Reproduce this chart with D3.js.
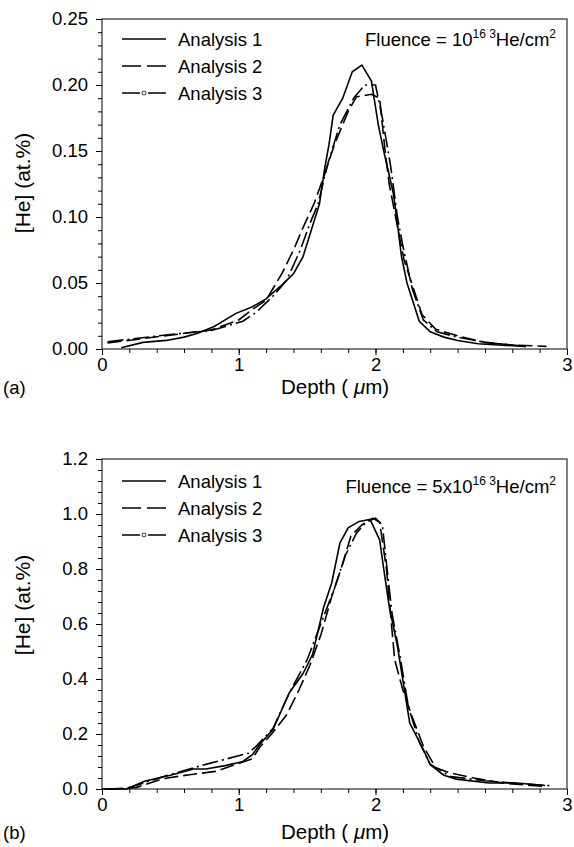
<!DOCTYPE html>
<html>
<head>
<meta charset="utf-8">
<script src="https://cdn.jsdelivr.net/npm/d3@7"></script>
<style>
  body { margin: 0; background: #fff; }
  text { font-family: "Liberation Sans", Arial, sans-serif; fill: #000; }
</style>
</head>
<body>
<script>
// x axis: ticks at 0,1,2 and the right end of the frame carries the "3" label
var xTickValues = [0, 1, 2, 3.4];
var xTickLabels = ['0', '1', '2', '3'];
var seriesNames = ['Analysis 1', 'Analysis 2', 'Analysis 3'];

// panel (a), fluence 1e16
var aTicks = [0, 0.05, 0.10, 0.15, 0.20, 0.25];
var a1 = [[0.14,0.001],[0.30,0.005],[0.47,0.0065],[0.60,0.009],[0.70,0.012],[0.82,0.017],[0.98,0.027],[1.10,0.032],[1.20,0.038],[1.31,0.048],[1.40,0.057],[1.47,0.070],[1.53,0.090],[1.59,0.110],[1.63,0.138],[1.66,0.155],[1.69,0.177],[1.76,0.190],[1.83,0.210],[1.90,0.215],[1.97,0.203],[2.02,0.170],[2.06,0.150],[2.13,0.118],[2.16,0.095],[2.19,0.070],[2.23,0.050],[2.32,0.021],[2.40,0.013],[2.50,0.009],[2.60,0.0065],[2.75,0.004],[2.90,0.003],[3.10,0.002]];
var a2 = [[0.04,0.0045],[0.50,0.0105],[0.80,0.0145],[1.00,0.022],[1.10,0.030],[1.20,0.037],[1.32,0.058],[1.40,0.075],[1.47,0.092],[1.55,0.110],[1.62,0.130],[1.70,0.155],[1.80,0.180],[1.86,0.191],[1.97,0.193],[2.03,0.190],[2.07,0.150],[2.10,0.125],[2.19,0.077],[2.21,0.067],[2.34,0.026],[2.44,0.015],[2.60,0.010],[2.80,0.005],[3.00,0.003],[3.25,0.002]];
var a3 = [[0.04,0.0055],[0.50,0.011],[0.80,0.014],[1.03,0.021],[1.13,0.028],[1.25,0.040],[1.35,0.052],[1.45,0.075],[1.52,0.095],[1.58,0.110],[1.65,0.140],[1.74,0.170],[1.84,0.190],[1.92,0.200],[2.00,0.200],[2.05,0.175],[2.11,0.139],[2.16,0.100],[2.20,0.078],[2.27,0.045],[2.35,0.022],[2.45,0.013],[2.60,0.009],[2.80,0.005],[3.00,0.003],[3.10,0.002]];

// panel (b), fluence 5e16
var bTicks = [0, 0.2, 0.4, 0.6, 0.8, 1.0, 1.2];
var b1 = [[0.02,0],[0.18,0],[0.31,0.028],[0.50,0.050],[0.67,0.073],[0.76,0.073],[0.90,0.085],[1.03,0.100],[1.10,0.125],[1.15,0.160],[1.25,0.216],[1.37,0.350],[1.47,0.420],[1.54,0.490],[1.62,0.660],[1.68,0.750],[1.74,0.895],[1.80,0.950],[1.88,0.973],[1.96,0.980],[2.03,0.906],[2.06,0.800],[2.10,0.664],[2.16,0.520],[2.25,0.240],[2.35,0.143],[2.40,0.088],[2.50,0.050],[2.59,0.036],[2.83,0.022],[3.03,0.022],[3.24,0.013]];
var b2 = [[0.05,0],[0.25,0.005],[0.40,0.030],[0.48,0.040],[0.64,0.052],[0.83,0.064],[0.98,0.090],[1.10,0.110],[1.15,0.150],[1.24,0.200],[1.35,0.270],[1.44,0.360],[1.52,0.450],[1.60,0.560],[1.68,0.700],[1.76,0.820],[1.82,0.920],[1.90,0.960],[1.98,0.985],[2.03,0.970],[2.08,0.800],[2.14,0.470],[2.20,0.360],[2.27,0.260],[2.35,0.155],[2.44,0.077],[2.54,0.059],[2.72,0.040],[2.95,0.020],[3.22,0.010]];
var b3 = [[0.00,0],[0.15,0],[0.23,0.010],[0.45,0.045],[0.69,0.080],[0.80,0.095],[1.07,0.130],[1.13,0.157],[1.25,0.220],[1.37,0.350],[1.50,0.470],[1.60,0.600],[1.70,0.730],[1.78,0.850],[1.86,0.930],[1.93,0.970],[2.00,0.985],[2.05,0.960],[2.08,0.820],[2.12,0.640],[2.18,0.480],[2.24,0.300],[2.32,0.170],[2.40,0.090],[2.55,0.045],[2.80,0.030],[3.05,0.020],[3.28,0.012]];

var w = 574;
var h = 847;
var left = 102, right = 567;
var dashes = [null, '14,5', '16,4,2,4'];
var font = '"Liberation Sans", Arial, sans-serif';

var svg = d3.select('body').append('svg')
            .attr('width', w)
            .attr('height', h);

var x = d3.scaleLinear().domain([0, 3.4]).range([left, right]);

function drawPanel(p) {
  var ymax = p.ticks[p.ticks.length - 1];
  var y = d3.scaleLinear().domain([0, ymax]).range([p.bottom, p.top]);
  var g = svg.append('g');

  // frame
  g.append('rect')
   .attr('x', left).attr('y', p.top)
   .attr('width', right - left).attr('height', p.bottom - p.top)
   .attr('fill', 'none').attr('stroke', '#000').attr('stroke-width', 1);

  // minor ticks
  g.append('g').attr('transform', 'translate(' + left + ',0)')
   .call(d3.axisLeft(y).tickValues(d3.range(0, ymax + 1e-6, p.minor)).tickSize(4).tickFormat(''))
   .call(function(s){ s.select('.domain').remove(); });
  g.append('g').attr('transform', 'translate(0,' + p.bottom + ')')
   .call(d3.axisBottom(x).tickValues(d3.range(0, 3.41, 0.2)).tickSize(4).tickFormat(''))
   .call(function(s){ s.select('.domain').remove(); });

  // major ticks
  var ya = g.append('g').attr('transform', 'translate(' + left + ',0)')
   .call(d3.axisLeft(y).tickValues(p.ticks).tickSize(6).tickPadding(8).tickFormat(d3.format(p.fmt)));
  var xa = g.append('g').attr('transform', 'translate(0,' + p.bottom + ')')
   .call(d3.axisBottom(x).tickValues(xTickValues).tickSize(6).tickPadding(3)
         .tickFormat(function(d, i){ return xTickLabels[i]; }));
  [ya, xa].forEach(function(a){
    a.select('.domain').remove();
    a.selectAll('text').style('font-size', '18.5px').style('font-family', font);
  });

  // curves
  var line = d3.line().x(function(d){ return x(d[0]); }).y(function(d){ return y(d[1]); });
  p.series.forEach(function(s, i){
    g.append('path')
     .datum(s)
     .attr('d', line)
     .attr('fill', 'none')
     .attr('stroke', '#000')
     .attr('stroke-width', 1.6)
     .attr('stroke-dasharray', dashes[i]);
  });

  // legend
  seriesNames.forEach(function(n, i){
    var ly = p.legendY + i * 27;
    g.append('line')
     .attr('x1', 122).attr('x2', 166).attr('y1', ly).attr('y2', ly)
     .attr('stroke', '#000').attr('stroke-width', 1.3)
     .attr('stroke-dasharray', i === 0 ? null : (i === 1 ? '19,6' : '18,8'));
    if (i === 2) {
      g.append('circle').attr('cx', 144).attr('cy', ly).attr('r', 2)
       .attr('fill', '#fff').attr('stroke', '#000').attr('stroke-width', 0.8);
    }
    g.append('text')
     .attr('x', 178).attr('y', ly + 6.5)
     .style('font-size', '18.5px')
     .text(n);
  });

  // fluence note, right aligned to the frame
  var f = g.append('text').attr('x', 556).attr('y', p.noteY)
           .attr('text-anchor', 'end').style('font-size', '18.5px');
  f.append('tspan').text('Fluence = ' + p.pre + '10');
  f.append('tspan').attr('dy', -8).style('font-size', '12px').text('16');
  f.append('tspan').attr('dy', 0).style('font-size', '12px').text(' 3');
  f.append('tspan').attr('dy', 8).text('He/cm');
  f.append('tspan').attr('dy', -8).style('font-size', '12px').text('2');

  // axis titles
  g.append('text')
   .attr('transform', 'translate(30,' + p.titleY + ') rotate(-90)')
   .attr('text-anchor', 'middle')
   .style('font-size', '21px')
   .text('[He] (at.%)');

  var t = g.append('text')
   .attr('x', 335).attr('y', p.bottom + p.xTitleGap)
   .attr('text-anchor', 'middle')
   .style('font-size', '20.5px');
  t.append('tspan').text('Depth ( ');
  t.append('tspan').style('font-style', 'italic').text('\u03bc');
  t.append('tspan').text('m)');

  g.append('text')
   .attr('x', 3).attr('y', p.bottom + p.xTitleGap)
   .style('font-size', '18.5px')
   .text(p.tag);
}

drawPanel({ top: 19, bottom: 349, ticks: aTicks, minor: 0.01, fmt: '.2f', series: [a1, a2, a3],
            legendY: 39, noteY: 46, pre: '', tag: '(a)', titleY: 183, xTitleGap: 45 });
drawPanel({ top: 459, bottom: 789, ticks: bTicks, minor: 0.04, fmt: '.1f', series: [b1, b2, b3],
            legendY: 481, noteY: 493, pre: '5x', tag: '(b)', titleY: 605, xTitleGap: 50 });
</script>
</body>
</html>
